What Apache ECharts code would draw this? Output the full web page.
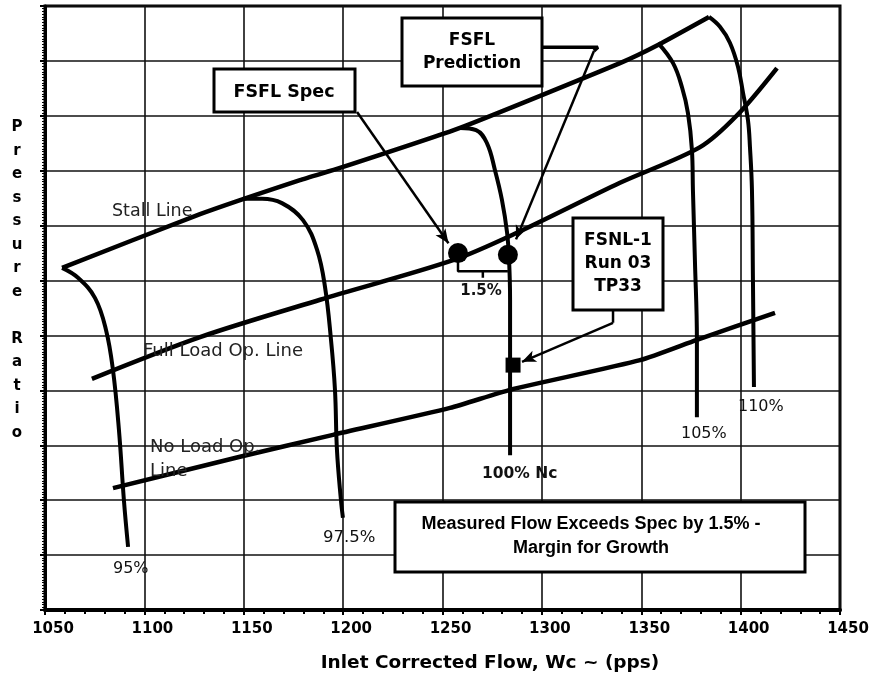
<!DOCTYPE html>
<html>
<head>
<meta charset="utf-8">
<script src="https://cdn.jsdelivr.net/npm/echarts@6/dist/echarts.min.js"></script>
<style>html,body{margin:0;padding:0;background:#fff}#c{width:870px;height:677px}</style>
</head>
<body>
<div id="c"></div>
<script>
// ---- data (flow in pps, pressure ratio in grid units) ----
const xTicks = [1050, 1100, 1150, 1200, 1250, 1300, 1350, 1400, 1450];

const stallFlow = [1058.6, 1128.0, 1178.3, 1198.4, 1258.8, 1339.3, 1358.4, 1384.1];
const stallPR   = [6.23, 7.21, 7.83, 8.05, 8.78, 9.96, 10.29, 10.80];

const fullLoadFlow = [1073.6, 1128.0, 1188.4, 1255.3, 1287.5, 1339.3, 1379.6, 1398.2, 1418.3];
const fullLoadPR   = [4.21, 4.97, 5.65, 6.37, 6.87, 7.78, 8.43, 9.01, 9.87];

const noLoadFlow = [1084.2, 1148.1, 1194.9, 1253.8, 1284.0, 1349.4, 1378.0, 1417.3];
const noLoadPR   = [2.22, 2.79, 3.19, 3.68, 4.01, 4.55, 4.92, 5.41];

const n95Flow = [1058.6, 1066.6, 1075.2, 1080.7, 1084.2, 1087.2, 1089.7, 1091.8];
const n95PR   = [6.23, 6.05, 5.68, 5.10, 4.37, 3.28, 2.00, 1.15];

const n975Flow = [1149.6, 1159.2, 1169.2, 1179.8, 1186.9, 1190.9, 1193.9, 1195.9, 1196.9, 1198.9, 1199.9];
const n975PR   = [7.49, 7.49, 7.41, 7.10, 6.56, 5.88, 4.92, 4.01, 2.91, 2.00, 1.68];

const n100Flow = [1258.8, 1266.9, 1272.4, 1276.4, 1279.9, 1282.5, 1283.5, 1284.0, 1284.0];
const n100PR   = [8.78, 8.74, 8.50, 8.01, 7.47, 6.87, 6.37, 5.65, 2.82];

const n105Flow = [1358.4, 1366.0, 1370.5, 1373.5, 1375.5, 1376.0, 1377.0, 1378.0, 1378.0];
const n105PR   = [10.33, 9.96, 9.52, 9.05, 8.38, 7.65, 6.37, 4.92, 3.51];

const n110Flow = [1384.1, 1389.6, 1394.6, 1398.7, 1401.2, 1403.7, 1404.7, 1405.7, 1406.2, 1406.7];
const n110PR   = [10.80, 10.62, 10.33, 9.89, 9.42, 8.92, 8.43, 7.65, 6.01, 4.06];

const specPoint = [1257.8, 6.50];       // FSFL Spec
const predPoint = [1282.9, 6.47];       // FSFL Prediction
const testPoint = [1285.5, 4.46];       // FSNL-1 Run 03 TP33

// ---- helpers ----
const pairs = (xs, ys) => xs.map((x, i) => [x, ys[i]]);
function curve(name, xs, ys, w, smooth) {
  return {
    name, type: 'line', data: pairs(xs, ys), symbol: 'none', smooth: smooth,
    lineStyle: { color: '#000', width: w }, silent: true, animation: false, z: 5
  };
}
function seg(pts, w) {
  return {
    type: 'line', data: pts, symbol: 'none', lineStyle: { color: '#000', width: w },
    silent: true, animation: false, z: 6
  };
}

const chart = echarts.init(document.getElementById('c'), null, { renderer: 'canvas' });
const F = '"DejaVu Sans", sans-serif';
const L = '"Liberation Sans", Arial, sans-serif';

function txt(x, y, text, font, align, fill) {
  return { type: 'text', x: x, y: y, z: 120,
    style: { text: text, font: font, fill: fill || '#000', align: align || 'left', verticalAlign: 'middle' } };
}
function box(x, y, w, h) {
  return { type: 'rect', z: 110, shape: { x: x, y: y, width: w, height: h },
    style: { fill: '#fff', stroke: '#000', lineWidth: 3 } };
}

const option = {
  backgroundColor: '#fff',
  animation: false,
  grid: { left: 45, right: 30, top: 6, bottom: 67, show: true, borderColor: '#000', borderWidth: 3,
    backgroundColor: 'transparent', containLabel: false, outerBoundsMode: 'none' },
  xAxis: {
    type: 'value', min: xTicks[0], max: xTicks[xTicks.length - 1], interval: 50,
    axisLine: { show: true, onZero: false, lineStyle: { color: '#000', width: 4 } },
    axisTick: { show: true, length: 5, lineStyle: { color: '#000', width: 2 } },
    minorTick: { show: true, splitNumber: 5, length: 4, lineStyle: { color: '#000', width: 2 } },
    splitLine: { show: true, lineStyle: { color: '#111', width: 1.6 } },
    axisLabel: { show: true, color: '#000', fontFamily: F, fontWeight: 'bold', fontSize: 15, margin: 12,
      padding: [0, 0, 0, 16], showMinLabel: true, showMaxLabel: true, formatter: v => String(v) }
  },
  yAxis: {
    type: 'value', min: 0, max: 11, interval: 1,
    axisLine: { show: true, onZero: false, lineStyle: { color: '#000', width: 3 } },
    axisTick: { show: true, length: 5, lineStyle: { color: '#000', width: 2 } },
    minorTick: { show: true, splitNumber: 20, length: 3, lineStyle: { color: '#000', width: 1 } },
    splitLine: { show: true, lineStyle: { color: '#111', width: 1.6 } },
    axisLabel: { show: false }
  },
  series: [
    curve('Stall Line', stallFlow, stallPR, 4.5, 0.15),
    curve('Full Load Op. Line', fullLoadFlow, fullLoadPR, 4.5, 0.3),
    curve('No Load Op. Line', noLoadFlow, noLoadPR, 4.5, 0.2),
    curve('95%', n95Flow, n95PR, 4, 0.4),
    curve('97.5%', n975Flow, n975PR, 4, 0.4),
    curve('100% Nc', n100Flow, n100PR, 4, 0.4),
    curve('105%', n105Flow, n105PR, 4, 0.4),
    curve('110%', n110Flow, n110PR, 4, 0.4),
    // 1.5% bracket
    seg([[specPoint[0], 6.34], [specPoint[0], 6.17], [predPoint[0], 6.17]], 2.5),
    seg([[1270.3, 6.17], [1270.3, 6.05]], 2.5),
    // prediction connector
    seg([[1300.0, 10.25], [1328.2, 10.25], [1326.2, 10.18]], 3.5),
    // FSNL connector stub
    seg([[1335.8, 5.46], [1335.8, 5.23]], 2.5),
    {
      type: 'scatter', data: [specPoint, predPoint], symbol: 'circle', symbolSize: 20,
      itemStyle: { color: '#000', opacity: 1 }, silent: true, z: 8
    },
    {
      type: 'scatter', data: [testPoint], symbol: 'rect', symbolSize: 15,
      itemStyle: { color: '#000', opacity: 1 }, silent: true, z: 8
    },
    {
      type: 'line', data: [], silent: true, z: 7,
      markLine: {
        silent: true, animation: false, symbol: ['none', 'arrow'], symbolSize: [9, 14],
        label: { show: false },
        lineStyle: { color: '#000', width: 2.5, type: 'solid' },
        data: [
          [{ coord: [1207.0, 9.07] }, { coord: [1253.0, 6.68] }],
          [{ coord: [1326.2, 10.18] }, { coord: [1287.0, 6.75] }],
          [{ coord: [1335.8, 5.23] }, { coord: [1290.0, 4.52] }]
        ]
      }
    }
  ],
  graphic: [
    // boxes
    box(214, 69, 141, 43),
    txt(284, 92, 'FSFL Spec', 'bold 17.5px ' + F, 'center'),
    box(402, 18, 140, 68),
    txt(472, 41, 'FSFL', 'bold 17px ' + F, 'center'),
    txt(472, 64, 'Prediction', 'bold 17px ' + F, 'center'),
    box(573, 218, 90, 92),
    txt(618, 241, 'FSNL-1', 'bold 17px ' + F, 'center'),
    txt(618, 264, 'Run 03', 'bold 17px ' + F, 'center'),
    txt(618, 287, 'TP33', 'bold 17px ' + F, 'center'),
    box(395, 502, 410, 70),
    txt(591, 524, 'Measured Flow Exceeds Spec by 1.5% -', 'bold 18px ' + L, 'center'),
    txt(591, 548, 'Margin for Growth', 'bold 18px ' + L, 'center'),
    // curve labels
    txt(112, 211, 'Stall Line', '17.5px ' + F, 'left', '#222'),
    txt(143, 351, 'Full Load Op. Line', '18px ' + F, 'left', '#222'),
    txt(150, 447, 'No Load Op.', '18px ' + F, 'left', '#222'),
    txt(150, 471, 'Line', '18px ' + F, 'left', '#222'),
    txt(113, 569, '95%', '16px ' + F, 'left', '#111'),
    txt(323, 538, '97.5%', '16.5px ' + F, 'left', '#111'),
    txt(482, 474, '100% Nc', 'bold 15.5px ' + F, 'left', '#111'),
    txt(681, 434, '105%', '16px ' + F, 'left', '#111'),
    txt(738, 407, '110%', '16px ' + F, 'left', '#111'),
    txt(481, 291, '1.5%', 'bold 15px ' + F, 'center', '#111'),
    // x axis title
    txt(490, 663, 'Inlet Corrected Flow, Wc ~ (pps)', 'bold 18.5px ' + F, 'center', '#000'),
    // y axis title (stacked letters)
    { type: 'text', x: 17, y: 280, z: 120,
      style: { text: 'P\nr\ne\ns\ns\nu\nr\ne\n\nR\na\nt\ni\no', font: 'bold 15px ' + F, fill: '#000',
        align: 'center', verticalAlign: 'middle', lineHeight: 23.5 } }
  ]
};
chart.setOption(option);
</script>
</body>
</html>
